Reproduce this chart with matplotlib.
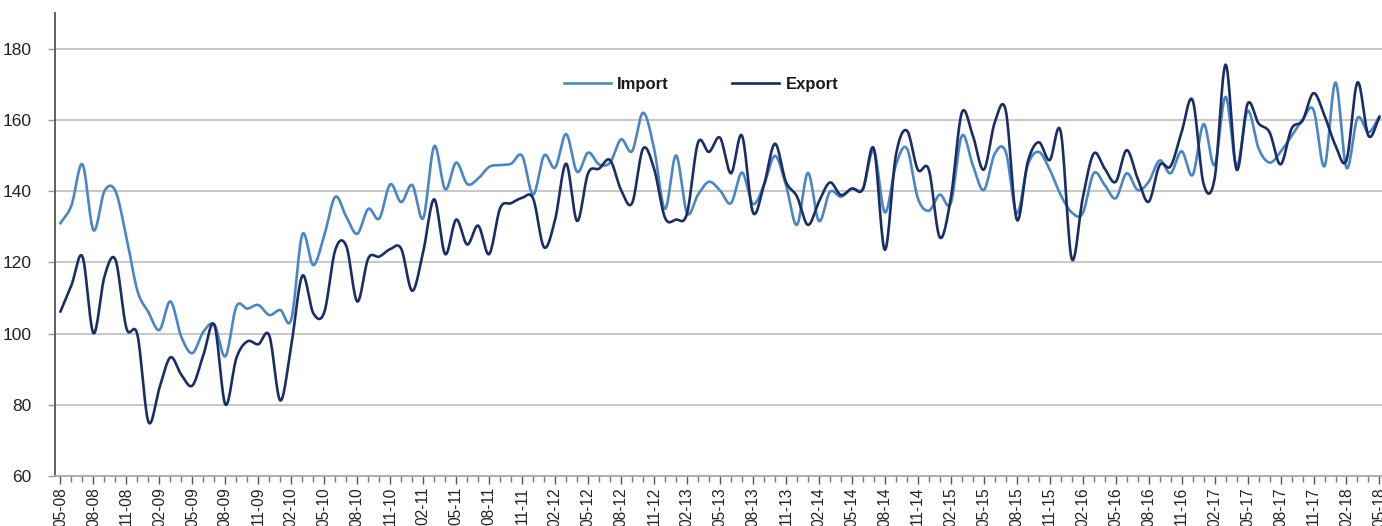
import numpy as np
import pandas as pd
import matplotlib
matplotlib.use("Agg")
import matplotlib.pyplot as plt
from matplotlib.ticker import MultipleLocator, FixedLocator

# monthly index values, 05-08 .. 05-18
months = pd.date_range("2008-05-01", periods=121, freq="MS").strftime("%m-%y").tolist()

import_vals = [
    131, 136, 147.5, 129, 140, 140, 127, 112, 106, 101,
    109, 99, 94.5, 100.5, 102.5, 93.6, 107.6, 107, 108, 105.2,
    106.6, 104, 127.8, 119.2, 127.6, 138.4, 132.8, 128, 135, 132.3,
    141.9, 136.9, 141.7, 132.4, 152.6, 140.5, 148, 142, 143.5, 146.8,
    147.3, 147.7, 149.9, 139, 150, 146.6, 156, 145.4, 150.8, 147.5,
    148, 154.5, 151.2, 162, 152, 135, 150, 133.8, 139, 142.6,
    140.2, 136.6, 145.2, 136.4, 141.7, 149.9, 141.7, 130.5, 145.1, 131.6,
    139.8, 138.4, 140.7, 140.7, 151.4, 134, 147.3, 152, 138, 134.5,
    139, 136.6, 155.5, 147.3, 140.3, 150.5, 151, 133.8, 147.3, 151,
    146, 138.9, 134, 133.8, 145, 141.7, 138, 145, 140.3, 142.6,
    148.6, 145, 151.2, 144.5, 158.8, 147.3, 166.5, 147, 162.5, 152,
    148, 151, 155.5, 160, 162.8, 147, 170.5, 146.5, 160.5, 156.5,
    161,
]

export_vals = [
    106.2, 113.6, 121.6, 100.1, 116, 120.7, 101.5, 99.6, 75.2, 84.7,
    93.3, 88.4, 85.4, 94, 102.4, 80.1, 93.1, 97.8, 97, 99.4,
    81.2, 96.8, 116.2, 105.7, 106, 123.5, 124.6, 109, 121.1, 121.6,
    123.7, 123.8, 112, 123, 137.7, 122.3, 132, 125, 130.3, 122.3,
    135.2, 136.6, 138.1, 137.9, 124.2, 132, 147.7, 131.6, 145, 146.3,
    148.7, 140.3, 136.6, 151.9, 146.3, 132.5, 132, 133.7, 153.6, 151,
    155, 145, 155.6, 134, 141.7, 153.3, 142.6, 138.5, 130.5, 137,
    142.4, 138.9, 140.7, 140.5, 151.9, 123.5, 150, 157, 146, 146,
    127, 138, 162, 155.6, 146, 159.3, 162.6, 132, 148.2, 153.7,
    148.7, 156.7, 121, 138, 150.5, 146.3, 142.6, 151.5, 143.5, 137,
    147.3, 147, 156.6, 165.5, 142, 143.5, 175.5, 146, 164.5, 159,
    156.5, 147.5, 157.5, 159.8, 167.5, 161.2, 152.8, 148.7, 170.5, 155.5,
    160.7,
]

IMPORT_COLOR = "#4a86c6"
EXPORT_COLOR = "#1b2d66"


def smooth(x, y, n=16):
    # catmull-rom through every point, like a spreadsheet "smoothed line"
    x = np.asarray(x, float)
    y = np.asarray(y, float)
    xp = np.concatenate([[2 * x[0] - x[1]], x, [2 * x[-1] - x[-2]]])
    yp = np.concatenate([[2 * y[0] - y[1]], y, [2 * y[-1] - y[-2]]])
    t = np.linspace(0, 1, n, endpoint=False)[:, None]

    def cr(p):
        p0, p1, p2, p3 = p[:-3], p[1:-2], p[2:-1], p[3:]
        return 0.5 * (2 * p1 + (-p0 + p2) * t
                      + (2 * p0 - 5 * p1 + 4 * p2 - p3) * t ** 2
                      + (-p0 + 3 * p1 - 3 * p2 + p3) * t ** 3)

    sx = np.append(cr(xp).T.ravel(), x[-1])
    sy = np.append(cr(yp).T.ravel(), y[-1])
    return sx, sy


fig = plt.figure(figsize=(13.82, 5.26), dpi=100)
ax = fig.add_axes([55 / 1382, 1 - 476 / 526, 1 - 55 / 1382, (476 - 13) / 526])

idx = np.arange(len(months))
sx, sy = smooth(idx, import_vals)
ax.plot(sx, sy, color=IMPORT_COLOR, lw=1.9, label="Import", zorder=3)
sx, sy = smooth(idx, export_vals)
ax.plot(sx, sy, color=EXPORT_COLOR, lw=1.9, label="Export", zorder=4)

ax.set_xlim(-0.5, 120.23)
ax.set_ylim(60, 190)

ax.yaxis.set_major_locator(FixedLocator([60, 80, 100, 120, 140, 160, 180]))
ax.grid(axis="y", color="#c8c8c8", lw=1.4)
ax.set_axisbelow(True)

ax.xaxis.set_major_locator(FixedLocator(idx[::3]))
ax.xaxis.set_minor_locator(MultipleLocator(1))
ax.set_xticklabels(months[::3], rotation=90, fontsize=11.2,
                   family=["Liberation Sans Narrow", "Liberation Sans"],
                   color="#222222")
ax.tick_params(axis="x", which="major", length=6, width=1, color="#555555", pad=2)
ax.tick_params(axis="x", which="minor", length=4, width=1, color="#777777")
ax.tick_params(axis="y", length=5, width=1, color="#999999", pad=12,
               labelsize=12.5, labelcolor="#222222")
for lab in ax.get_yticklabels():
    lab.set_family("Liberation Sans")

for s in ["top", "right"]:
    ax.spines[s].set_visible(False)
ax.spines["left"].set_color("#555555")
ax.spines["left"].set_linewidth(1.3)
ax.spines["bottom"].set_color("#aaaaaa")
ax.spines["bottom"].set_linewidth(1.3)

leg = ax.legend(loc="center", bbox_to_anchor=(0.487, 0.845), ncol=2,
                frameon=False, handlelength=2.8, columnspacing=3.8,
                handletextpad=0.4,
                prop={"family": ["Liberation Sans Narrow", "Liberation Sans"],
                      "size": 12, "weight": "bold"})
for txt in leg.get_texts():
    txt.set_color("#1a1a1a")

fig.savefig("out.png", dpi=100)
